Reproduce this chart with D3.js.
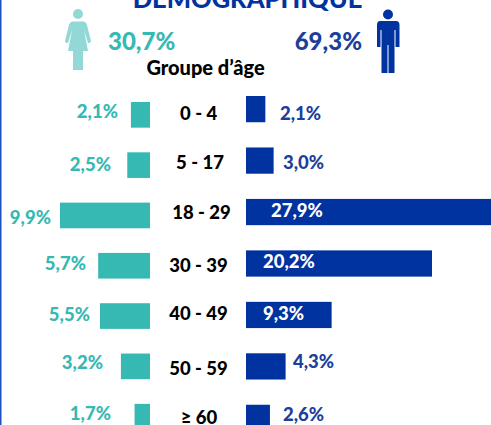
<!DOCTYPE html>
<html>
<head>
<meta charset="utf-8">
<script src="https://cdn.jsdelivr.net/npm/d3@7"></script>
<style>
  html, body { margin: 0; padding: 0; background: #fff; overflow: hidden; }
  text { font-family: "Lato", "Open Sans", sans-serif; font-weight: 900; }
</style>
</head>
<body>
<div id="chart"></div>
<script>
// 1: DATA
const ageGroups = ["0 - 4", "5 - 17", "18 - 29", "30 - 39", "40 - 49", "50 - 59", "≥ 60"];
const femaleValues = [2.1, 2.5, 9.9, 5.7, 5.5, 3.2, 1.7];
const maleValues = [2.1, 3.0, 27.9, 20.2, 9.3, 4.3, 2.6];
const title = "DÉMOGRAPHIQUE";
const femaleTotal = "30,7%";
const maleTotal = "69,3%";
const groupTitle = "Groupe d’âge";

// the source is a hand placed slide, so the labels do not sit on a grid
const femaleLabelEnd = [118, 111, 51, 86, 90, 103, 111];
const femaleLabelY = [118, 171, 224, 270, 321, 369, 420];
const maleLabelStart = [280, 283, 271, 263, 263, 293, 283];
const maleLabelY = [120, 169, 217, 268, 320, 368, 421];
const groupLabelX = [198.7, 200, 201.5, 198.5, 198.5, 198.5, 199];
const groupLabelY = [120, 169, 219, 272, 320, 375, 424];

const teal = "#36b8b3", lightTeal = "#92d8d6", blue = "#0033a0", labelBlue = "#1c3f9b";
const width = 491, height = 425;

// 2: SVG
const svg = d3.select("#chart").append("svg")
    .attr("width", width)
    .attr("height", height)
    .style("display", "block");

// left border of the slide
svg.append("rect")
    .attr("x", 0).attr("y", 0)
    .attr("width", 1.5).attr("height", height)
    .attr("fill", "#1f4fc0");

// 3: SCALES - each side has its own vertical spacing
const xFemale = d3.scaleLinear().domain([0, 9.9]).range([150, 60]);
const xMale = d3.scaleLinear().domain([0, 20.2]).range([246, 432]);

const yFemale = d3.scaleBand().domain(ageGroups).range([102, 429.5]).paddingInner(0.49).paddingOuter(0);
const yMale = d3.scaleBand().domain(ageGroups).range([96, 431]).paddingInner(0.49).paddingOuter(0);

// 4: BARS
svg.append("g").selectAll("rect")
    .data(femaleValues)
    .enter()
    .append("rect")
    .attr("x", d => xFemale(d))
    .attr("y", (d, i) => yFemale(ageGroups[i]))
    .attr("width", d => xFemale(0) - xFemale(d))
    .attr("height", yFemale.bandwidth())
    .attr("fill", teal);

svg.append("g").selectAll("rect")
    .data(maleValues)
    .enter()
    .append("rect")
    .attr("x", xMale(0))
    .attr("y", (d, i) => yMale(ageGroups[i]))
    .attr("width", d => xMale(d) - xMale(0))
    .attr("height", yMale.bandwidth())
    .attr("fill", blue);

// 5: LABELS
const pct = d => d.toFixed(1).replace(".", ",") + "%";

svg.append("g").selectAll("text")
    .data(femaleValues)
    .enter()
    .append("text")
    .attr("x", (d, i) => femaleLabelEnd[i])
    .attr("y", (d, i) => femaleLabelY[i])
    .attr("text-anchor", "end")
    .attr("font-size", 18.5)
    .attr("fill", teal)
    .text(pct);

svg.append("g").selectAll("text")
    .data(maleValues)
    .enter()
    .append("text")
    .attr("x", (d, i) => maleLabelStart[i])
    .attr("y", (d, i) => maleLabelY[i])
    .attr("font-size", 18.5)
    .attr("fill", d => d > 9 ? "#fff" : labelBlue) // long bars carry their label inside
    .text(pct);

svg.append("g").selectAll("text")
    .data(ageGroups)
    .enter()
    .append("text")
    .attr("x", (d, i) => groupLabelX[i])
    .attr("y", (d, i) => groupLabelY[i])
    .attr("text-anchor", "middle")
    .attr("font-size", 18.5)
    .attr("fill", "#000")
    .text(d => d);

// 6: HEADER
svg.append("text")
    .attr("x", 247.5).attr("y", 8)
    .attr("text-anchor", "middle")
    .attr("font-size", 25.5)
    .attr("fill", blue)
    .text(title);

svg.append("text")
    .attr("x", 108).attr("y", 50)
    .attr("font-size", 24)
    .attr("fill", teal)
    .text(femaleTotal);

svg.append("text")
    .attr("x", 362).attr("y", 50)
    .attr("text-anchor", "end")
    .attr("font-size", 24)
    .attr("fill", labelBlue)
    .text(maleTotal);

svg.append("text")
    .attr("x", 205.5).attr("y", 75)
    .attr("text-anchor", "middle")
    .attr("font-size", 20)
    .attr("fill", "#000")
    .text(groupTitle);

// 7: ICONS
function drawHead(cx, cy, r, color) {
    svg.append("circle").attr("cx", cx).attr("cy", cy).attr("r", r).attr("fill", color);
}

drawHead(78, 14, 5, lightTeal);
svg.append("path")
    .attr("fill", lightTeal)
    .attr("d", "M73,21.5 L83,21.5 Q86,21.5 87,25 L91,41 Q91,43 89,43 L88,43 L84,30 L88,51 L83,51 L83,70 L73,70 L73,51 L68,51 L72,30 L68,43 L67,43 Q65,43 65,41 L69,25 Q70,21.5 73,21.5 Z");

drawHead(388, 14.5, 5, blue);
svg.append("path")
    .attr("fill", blue)
    .attr("d", "M380,21 L396,21 Q399.5,21 399.5,25 L399.5,47 L395.5,47 L395.5,30 L394.5,30 L394.5,73 L388.5,73 L388.5,45 L387.5,45 L387.5,73 L381.5,73 L381.5,30 L380.5,30 L380.5,47 L377,47 L377,25 Q377,21 380,21 Z");
</script>
</body>
</html>
